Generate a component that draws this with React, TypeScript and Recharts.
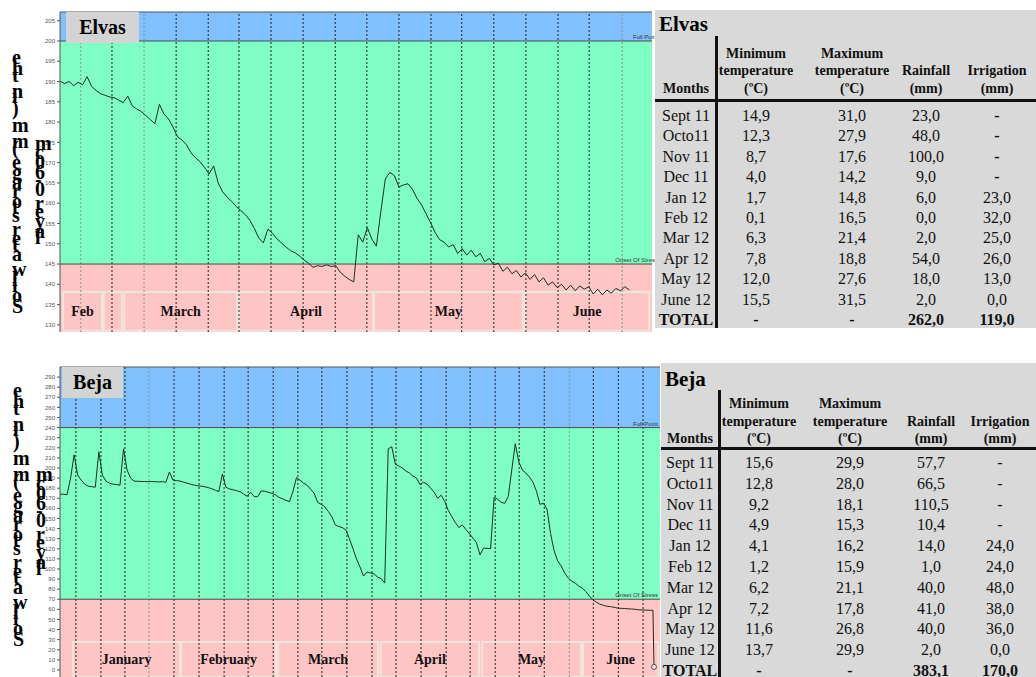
import React from "react";
import {
  ComposedChart, Line, XAxis, YAxis, ReferenceArea, ReferenceLine, ReferenceDot,
} from "recharts";

document.body.style.margin = "0";

// ---- Elvas: soil water storage (mm), one reading per day from mid February
const elvasStorage = [
  190.1, 189.5, 190, 189, 189.8, 189.2, 191.2, 188.8, 187.8, 187,
  186.6, 186.2, 186, 185.4, 184.8, 186.4, 184, 183.2, 182.6, 181.6,
  180.6, 179.6, 184.4, 182, 180.8, 178.8, 176.4, 175.6, 174.4, 172.4,
  171.2, 170.2, 168.8, 167.2, 169.2, 165, 162.8, 161.5, 160.4, 159.2,
  158.2, 157.2, 155.8, 153.8, 151.4, 150.2, 153.6, 152.6, 151.2, 150.2,
  149.2, 148.3, 147.8, 147, 146, 145.2, 144.2, 144.6, 144.4, 144.8,
  144.4, 144.6, 143, 142, 141.2, 140.6, 152.2, 150.4, 154, 151.2,
  149.4, 158, 166, 167.6, 166.8, 164, 164.5, 164.8, 163.4, 161.2,
  159.6, 157.4, 155.2, 152.8, 151, 150.4, 149.2, 149.8, 147.6, 148.8,
  147.2, 148.4, 146.8, 147.6, 145.6, 146.4, 144.8, 145.2, 143.2, 144.2,
  142.6, 143.4, 141.8, 142.8, 141.2, 142.4, 140.6, 141.6, 139.8, 140.6,
  139.2, 140, 138.6, 139.8, 138.4, 139.6, 138.8, 139.4, 137.6, 138.8,
  137.4, 138.6, 137.8, 139, 138.4, 139.4, 138.6,
];
const elvasTicks = [130, 135, 140, 145, 150, 155, 160, 165, 170, 175, 180, 185, 190, 195, 200, 205];
const elvasWeeks = [4.6, 11.5, 18.6, 25.7, 32.8, 39.6, 46.7, 53.8, 60.9, 67.9, 75, 82.1, 88.9, 96, 103.1, 110.2, 117.1, 124.4];
const elvasLightWeeks = [4.6, 18.6, 124.4];
const elvasMonthNames = ["Feb", "", "March", "April", "May", "June"];
const elvasMonthFrom = [0.7, 9.7, 14.2, 39.6, 69.5, 102.9];
const elvasMonthTo = [9.3, 13.7, 39.2, 69.3, 102.4, 130.4];

// ---- Beja: soil water storage (mm), one reading per day from early January
const bejaStorage = [
  174, 174, 173.5, 190, 213, 193, 188, 184, 182, 181.5,
  181, 216, 193, 187, 185, 184, 183.5, 183, 219, 198,
  190, 187, 186.8, 186.6, 186.6, 186.4, 186.6, 186.4, 186.2, 186.4,
  186, 196, 188, 187.5, 187, 186, 185, 184, 183, 182.4,
  182, 181.4, 180.6, 179.5, 178, 176.6, 194, 181, 179.3, 178.5,
  177.5, 176.5, 174.3, 172, 176, 171.7, 171.5, 177.3, 177, 176,
  175, 173.5, 171, 169.5, 168, 166.7, 176.6, 190.5, 188, 185,
  183, 179, 175, 166, 164, 161.7, 157, 152, 143.6, 142,
  141, 138.7, 130, 120, 110, 102, 93, 97, 96, 95,
  92, 90.5, 86, 219, 221, 204, 202, 200, 197, 195,
  192, 190, 183.5, 186, 184, 180, 176, 170, 173, 167,
  158, 152, 146, 141, 143.6, 139, 135, 130.5, 126, 114,
  120.5, 120.5, 120, 171, 169, 166, 165, 171.7, 198, 224,
  206, 198, 195, 191, 186, 177, 164, 165, 159, 135,
  118, 108, 103, 96, 91, 88, 85.9, 83, 81, 77.5,
  73, 69.5, 67, 65, 64, 63, 62.7, 62, 61.2, 61,
  60.8, 60.5, 60.3, 60, 59.5, 59.4, 59.2, 59.1, 59,
];
const bejaDropDay = 168.3;
const bejaDropValue = 3;
const bejaTicks = [0, 10, 20, 30, 40, 50, 60, 70, 80, 90, 100, 110, 120, 130, 140, 150, 160, 170, 180, 190, 200, 210, 220, 230, 240, 250, 260, 270, 280, 290];
const bejaWeeks = [4.5, 11.6, 18.4, 25.2, 32.3, 39.4, 46.5, 53.3, 60.4, 67.4, 74.2, 81.3, 88.4, 95.2, 102.3, 109.4, 116.2, 123.3, 130.1, 137.2, 144.3, 151.1, 158.2, 165.2];
const bejaLightWeeks = [25.2, 144.3];
const bejaMonthNames = ["January", "February", "March", "April", "May", "June"];
const bejaMonthFrom = [3.7, 34.3, 61.8, 90.9, 119.6, 148.2];
const bejaMonthTo = [34, 61.2, 90.1, 118.7, 147.6, 169.5];

// ---- climate tables
const tableMonths = ["Sept 11", "Octo11", "Nov 11", "Dec 11", "Jan 12", "Feb 12", "Mar 12", "Apr 12", "May 12", "June 12"];
const elvasMinT = [14.9, 12.3, 8.7, 4.0, 1.7, 0.1, 6.3, 7.8, 12.0, 15.5];
const elvasMaxT = [31.0, 27.9, 17.6, 14.2, 14.8, 16.5, 21.4, 18.8, 27.6, 31.5];
const elvasRain = [23.0, 48.0, 100.0, 9.0, 6.0, 0.0, 2.0, 54.0, 18.0, 2.0];
const elvasIrrig = [null, null, null, null, 23.0, 32.0, 25.0, 26.0, 13.0, 0.0];
const elvasTotals = [262.0, 119.0];
const bejaMinT = [15.6, 12.8, 9.2, 4.9, 4.1, 1.2, 6.2, 7.2, 11.6, 13.7];
const bejaMaxT = [29.9, 28.0, 18.1, 15.3, 16.2, 15.9, 21.1, 17.8, 26.8, 29.9];
const bejaRain = [57.7, 66.5, 110.5, 10.4, 14.0, 1.0, 40.0, 41.0, 40.0, 2.0];
const bejaIrrig = [null, null, null, null, 24.0, 24.0, 48.0, 38.0, 36.0, 0.0];
const bejaTotals = [383.1, 170.0];

const SERIF = '"Liberation Serif", "Times New Roman", serif';
const SANS = '"Liberation Sans", Arial, sans-serif';
const BLUE = "#80c0ff";
const GREEN = "#80ffc4";
const PINK = "#ffc4c4";

const fmt = (v: number | null) => (v == null ? "-" : v.toFixed(1).replace(".", ","));

const edgeLabel = (text: string, shift: number) => (props: any) => {
  const vb = props.viewBox || {};
  return (
    <text x={vb.x + vb.width + shift} y={vb.y - 2} textAnchor="end" fontSize={6} fontFamily={SANS} fill="#333">
      {text}
    </text>
  );
};

interface PanelProps {
  top: number;
  width: number;
  height: number;
  margin: { top: number; right: number; left: number; bottom: number };
  values: number[];
  xMax: number;
  yDomain: [number, number];
  ticks: number[];
  fullPoint: number;
  stress: number;
  weeks: number[];
  lightWeeks: number[];
  monthNames: string[];
  monthFrom: number[];
  monthTo: number[];
  boxTop: number;
  labelShift: number;
  drop?: { d: number; v: number };
}

function StoragePanel(p: PanelProps) {
  const data = p.values.map((v, d) => ({ d, v })).concat(p.drop ? [p.drop] : []);
  const [lo, hi] = p.yDomain;
  return (
    <div style={{ position: "absolute", left: 0, top: p.top }}>
      <ComposedChart width={p.width} height={p.height} data={data} margin={p.margin}>
        <XAxis dataKey="d" type="number" domain={[0, p.xMax]} hide allowDataOverflow />
        <YAxis
          type="number"
          domain={p.yDomain}
          ticks={p.ticks}
          interval={0}
          allowDataOverflow
          width={60}
          tickSize={3}
          tickMargin={2}
          tick={{ fontSize: 6, fill: "#555", fontFamily: SANS }}
          axisLine={{ stroke: "#555" }}
          tickLine={{ stroke: "#555" }}
        />
        <ReferenceArea y1={p.fullPoint} y2={hi} fill={BLUE} fillOpacity={1} ifOverflow="hidden" />
        <ReferenceArea y1={p.stress} y2={p.fullPoint} fill={GREEN} fillOpacity={1} ifOverflow="hidden" />
        <ReferenceArea y1={lo} y2={p.stress} fill={PINK} fillOpacity={1} ifOverflow="hidden" />
        {p.monthNames.map((m, i) => (
          <ReferenceArea
            key={"m" + i}
            x1={p.monthFrom[i]}
            x2={p.monthTo[i]}
            y1={lo + 0.3}
            y2={p.boxTop}
            fill={PINK}
            fillOpacity={1}
            stroke="#ece6dc"
            strokeWidth={2}
            ifOverflow="hidden"
            label={{ value: m, position: "center", fontSize: 14, fontWeight: "bold", fill: "#111", fontFamily: SERIF }}
          />
        ))}
        {p.weeks.map((w) => (
          <ReferenceLine
            key={"w" + w}
            x={w}
            stroke={p.lightWeeks.includes(w) ? "#7d9a8c" : "#222"}
            strokeDasharray="2 2"
            strokeWidth={1}
          />
        ))}
        <ReferenceLine y={hi} stroke="#555" strokeWidth={1} ifOverflow="visible" />
        <ReferenceLine y={p.fullPoint} stroke="#4a4a4a" strokeWidth={1} label={edgeLabel("Full Point", p.labelShift)} />
        <ReferenceLine y={p.stress} stroke="#4a4a4a" strokeWidth={1} label={edgeLabel("Onset Of Stress", p.labelShift)} />
        <Line
          dataKey="v"
          type="linear"
          stroke="#15301f"
          strokeWidth={1}
          dot={false}
          isAnimationActive={false}
        />
        {p.drop && (
          <ReferenceDot x={p.drop.d} y={p.drop.v} r={2.5} fill="#ffe0e0" stroke="#333" strokeWidth={0.8} />
        )}
      </ComposedChart>
    </div>
  );
}

// glyphs laid along a rotated baseline but kept upright, as in the source figure
function StackedAxisTitle({ x1, y1, x2, y2 }: { x1: number; y1: number; x2: number; y2: number }) {
  const st = { fontFamily: SERIF, fontSize: 20, fontWeight: "bold" as const, fill: "#000" };
  return (
    <>
      <text transform={`translate(${x1},${y1}) rotate(-90)`} rotate="90" {...st}>
        Soil water storage (mm) in the
      </text>
      <text transform={`translate(${x2},${y2}) rotate(-90)`} rotate="90" {...st}>
        layer 0-60cm
      </text>
    </>
  );
}

interface TableGeo {
  left: number; top: number; width: number; height: number;
  titleY: number; titleSize: number; vx: number; vTop: number; hy: number;
  headY: [number, number, number]; monthX: number; cols: [number, number, number, number];
  rowY: number; rowStep: number; boldDash: boolean;
}

function ClimateTable({ title, geo, minT, maxT, rain, irrig, totals }: {
  title: string; geo: TableGeo; minT: number[]; maxT: number[]; rain: number[];
  irrig: (number | null)[]; totals: number[];
}) {
  const cell = (x: number, y: number, text: string, bold = false, size = 16, key?: string) => (
    <div
      key={key}
      style={{
        position: "absolute", left: x - geo.left, top: y - geo.top, transform: "translate(-50%, -50%)",
        whiteSpace: "nowrap", fontFamily: SERIF, fontSize: size, fontWeight: bold ? "bold" : "normal",
        lineHeight: 1, color: "#111",
      }}
    >
      {text}
    </div>
  );
  const [h1, h2, h3] = geo.headY;
  const [c1, c2, c3, c4] = geo.cols;
  return (
    <div style={{ position: "absolute", left: geo.left, top: geo.top, width: geo.width, height: geo.height, background: "#d9d9d9", overflow: "hidden" }}>
      <div style={{ position: "absolute", left: 4, top: geo.titleY - geo.top - geo.titleSize / 2 - 1, fontFamily: SERIF, fontWeight: "bold", fontSize: geo.titleSize, lineHeight: 1 }}>
        {title}
      </div>
      <div style={{ position: "absolute", left: geo.vx - geo.left, top: geo.vTop - geo.top, width: 2.5, height: geo.height, background: "#111" }} />
      <div style={{ position: "absolute", left: 0, top: geo.hy - geo.top, width: geo.width, height: 2.5, background: "#111" }} />
      {cell(geo.monthX, h3, "Months", true, 14)}
      {cell(c1, h1, "Minimum", true, 14)}
      {cell(c1, h2, "temperature", true, 14)}
      {cell(c1, h3, "(ºC)", true, 14)}
      {cell(c2, h1, "Maximum", true, 14)}
      {cell(c2, h2, "temperature", true, 14)}
      {cell(c2, h3, "(ºC)", true, 14)}
      {cell(c3, h2, "Rainfall", true, 14)}
      {cell(c3, h3, "(mm)", true, 14)}
      {cell(c4, h2, "Irrigation", true, 14)}
      {cell(c4, h3, "(mm)", true, 14)}
      {tableMonths.map((m, i) => {
        const y = geo.rowY + i * geo.rowStep;
        return (
          <React.Fragment key={m}>
            {cell(geo.monthX, y, m)}
            {cell(c1, y, fmt(minT[i]))}
            {cell(c2, y, fmt(maxT[i]))}
            {cell(c3, y, fmt(rain[i]))}
            {cell(c4, y, fmt(irrig[i]), irrig[i] == null && geo.boldDash)}
          </React.Fragment>
        );
      })}
      {(() => {
        const y = geo.rowY + 10 * geo.rowStep;
        return (
          <>
            {cell(geo.monthX, y, "TOTAL", true)}
            {cell(c1, y, "-", true)}
            {cell(c2, y, "-", true)}
            {cell(c3, y, fmt(totals[0]), true)}
            {cell(c4, y, fmt(totals[1]), true)}
          </>
        );
      })()}
    </div>
  );
}

const elvasGeo: TableGeo = {
  left: 655, top: 10, width: 381, height: 318, titleY: 25, titleSize: 21, vx: 715, vTop: 36, hy: 99,
  headY: [54, 71, 89], monthX: 686, cols: [756, 852, 926, 997], rowY: 116, rowStep: 20.4, boldDash: true,
};
const bejaGeo: TableGeo = {
  left: 661, top: 363, width: 375, height: 314, titleY: 380, titleSize: 21, vx: 718, vTop: 390, hy: 447,
  headY: [404, 422, 439], monthX: 690, cols: [759, 850, 931, 1000], rowY: 463, rowStep: 20.8, boldDash: false,
};

function NameTag({ x, y, w, h, text }: { x: number; y: number; w: number; h: number; text: string }) {
  return (
    <div style={{
      position: "absolute", left: x, top: y, width: w, height: h, background: "#d4d4d4",
      fontFamily: SERIF, fontWeight: "bold", fontSize: 20, lineHeight: `${h}px`, textAlign: "center",
    }}>
      {text}
    </div>
  );
}

export default function App() {
  return (
    <div style={{ position: "relative", width: 1036, height: 677, background: "#fff", overflow: "hidden" }}>
      <StoragePanel
        top={0} width={660} height={340} margin={{ top: 12, right: 8, left: 0, bottom: 8 }}
        values={elvasStorage} xMax={131} yDomain={[128.24, 207.15]} ticks={elvasTicks}
        fullPoint={200} stress={145} weeks={elvasWeeks} lightWeeks={elvasLightWeeks}
        monthNames={elvasMonthNames} monthFrom={elvasMonthFrom} monthTo={elvasMonthTo}
        boxTop={138.1} labelShift={6}
      />
      <StoragePanel
        top={355} width={662} height={322} margin={{ top: 12, right: 2, left: 0, bottom: 0 }}
        values={bejaStorage} xMax={170} yDomain={[-7, 300]} ticks={bejaTicks}
        fullPoint={240} stress={70} weeks={bejaWeeks} lightWeeks={bejaLightWeeks}
        monthNames={bejaMonthNames} monthFrom={bejaMonthFrom} monthTo={bejaMonthTo}
        boxTop={27.7} labelShift={-2} drop={{ d: bejaDropDay, v: bejaDropValue }}
      />
      <NameTag x={66} y={12} w={73} h={31} text="Elvas" />
      <NameTag x={62} y={367} w={61} h={31} text="Beja" />
      <svg width={60} height={677} style={{ position: "absolute", left: 0, top: 0 }}>
        <StackedAxisTitle x1={12} y1={313} x2={35} y2={244} />
        <StackedAxisTitle x1={13} y1={646} x2={36} y2={575} />
      </svg>
      <ClimateTable title="Elvas" geo={elvasGeo} minT={elvasMinT} maxT={elvasMaxT} rain={elvasRain} irrig={elvasIrrig} totals={elvasTotals} />
      <ClimateTable title="Beja" geo={bejaGeo} minT={bejaMinT} maxT={bejaMaxT} rain={bejaRain} irrig={bejaIrrig} totals={bejaTotals} />
    </div>
  );
}
